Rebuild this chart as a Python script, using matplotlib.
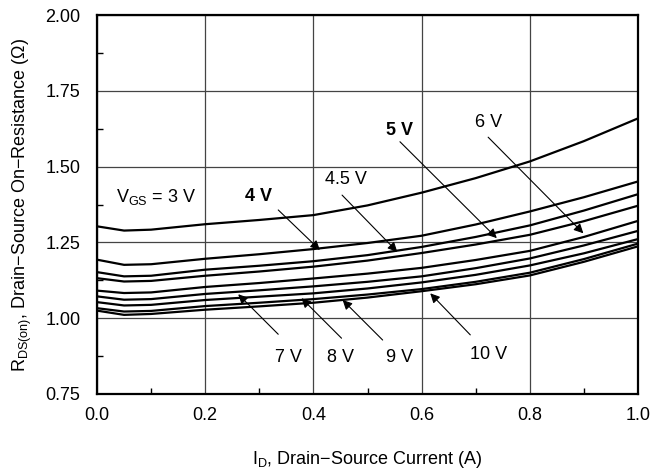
import matplotlib
matplotlib.use("Agg")
import matplotlib.pyplot as plt
from matplotlib.ticker import MultipleLocator

plt.rcParams['font.family'] = ['Liberation Sans', 'DejaVu Sans']
plt.rcParams['mathtext.fontset'] = 'custom'
plt.rcParams['mathtext.rm'] = 'Liberation Sans'
plt.rcParams['mathtext.it'] = 'Liberation Sans'
plt.rcParams['axes.unicode_minus'] = True

# Drain current (A)
current = [0.0, 0.05, 0.1, 0.2, 0.3, 0.4, 0.5, 0.6, 0.7, 0.8, 0.9, 1.0]

# On-resistance (ohm) for each gate voltage
r_3v  = [1.303, 1.289, 1.292, 1.310, 1.324, 1.340, 1.372, 1.414, 1.462, 1.517, 1.584, 1.659]
r_4v  = [1.193, 1.176, 1.178, 1.196, 1.211, 1.228, 1.248, 1.272, 1.309, 1.352, 1.399, 1.451]
r_45v = [1.152, 1.138, 1.140, 1.160, 1.173, 1.188, 1.208, 1.235, 1.268, 1.306, 1.355, 1.409]
r_5v  = [1.132, 1.121, 1.123, 1.140, 1.154, 1.170, 1.190, 1.215, 1.243, 1.275, 1.320, 1.371]
r_6v  = [1.091, 1.083, 1.085, 1.103, 1.116, 1.131, 1.147, 1.166, 1.192, 1.222, 1.268, 1.321]
r_7v  = [1.072, 1.061, 1.063, 1.080, 1.092, 1.105, 1.120, 1.138, 1.165, 1.197, 1.240, 1.288]
r_8v  = [1.053, 1.042, 1.044, 1.060, 1.071, 1.082, 1.098, 1.118, 1.143, 1.174, 1.214, 1.261]
r_9v  = [1.033, 1.022, 1.024, 1.040, 1.051, 1.063, 1.078, 1.096, 1.120, 1.150, 1.195, 1.246]
r_10v = [1.025, 1.011, 1.014, 1.028, 1.039, 1.051, 1.068, 1.089, 1.112, 1.141, 1.186, 1.237]

series = [r_3v, r_4v, r_45v, r_5v, r_6v, r_7v, r_8v, r_9v, r_10v]

x_ticks = [0.0, 0.2, 0.4, 0.6, 0.8, 1.0]
x_ticklabels = ['0.0', '0.2', '0.4', '0.6', '0.8', '1.0']
y_ticks = [0.75, 1.00, 1.25, 1.50, 1.75, 2.00]
y_ticklabels = ['0.75', '1.00', '1.25', '1.50', '1.75', '2.00']

FS = 13

fig = plt.figure(figsize=(6.69, 4.76), dpi=100)
ax = fig.add_axes([97/669, 1 - 394/476, (638 - 97)/669, (394 - 15)/476])

for s in series:
    ax.plot(current, s, color='black', lw=1.6, solid_capstyle='round', solid_joinstyle='round')

ax.set_xlim(0.0, 1.0)
ax.set_ylim(0.75, 2.00)
ax.set_xticks(x_ticks)
ax.set_xticklabels(x_ticklabels)
ax.set_yticks(y_ticks)
ax.set_yticklabels(y_ticklabels)
ax.xaxis.set_minor_locator(MultipleLocator(0.1))
ax.yaxis.set_minor_locator(MultipleLocator(0.125))
ax.tick_params(which='major', length=0, labelsize=FS, colors='black')
ax.tick_params(axis='x', which='major', pad=9)
ax.tick_params(axis='y', which='major', pad=12)
ax.tick_params(which='minor', direction='in', length=4, width=1)
ax.grid(True, which='major', color='#444444', lw=0.9)
for sp in ax.spines.values():
    sp.set_linewidth(1.6)

ax.set_xlabel('I$_{\\mathregular{D}}$, Drain\u2212Source Current (A)', fontsize=FS, labelpad=18)
ax.set_ylabel('R$_{\\mathregular{DS(on)}}$, Drain\u2212Source On\u2212Resistance (\u03a9)', fontsize=FS, labelpad=8)

box = dict(facecolor='white', edgecolor='none', pad=1)
ax.text(0.035, 1.400, 'V$_{\\mathregular{GS}}$ = 3 V', fontsize=FS, ha='left', va='center', bbox=box)

arrow = dict(arrowstyle='-|>', color='black', lw=0.8, mutation_scale=14, shrinkA=0, shrinkB=0)

labels = [
    ('4 V',   (0.298, 1.400), (0.335, 1.357), (0.412, 1.225), 'bold'),
    ('4.5 V', (0.460, 1.456), (0.453, 1.406), (0.555, 1.219), 'normal'),
    ('5 V',   (0.560, 1.620), (0.560, 1.582), (0.739, 1.264), 'bold'),
    ('6 V',   (0.723, 1.647), (0.723, 1.597), (0.899, 1.280), 'normal'),
    ('7 V',   (0.353, 0.869), (0.335, 0.947), (0.261, 1.079), 'normal'),
    ('8 V',   (0.451, 0.869), (0.452, 0.934), (0.378, 1.066), 'normal'),
    ('9 V',   (0.560, 0.869), (0.528, 0.928), (0.454, 1.060), 'normal'),
    ('10 V',  (0.723, 0.879), (0.690, 0.945), (0.616, 1.082), 'normal'),
]
for txt, tpos, start, tip, wt in labels:
    ax.text(tpos[0], tpos[1], txt, fontsize=FS, ha='center', va='center', fontweight=wt, bbox=box)
    ax.annotate('', xy=tip, xytext=start, arrowprops=arrow)

fig.savefig('out.png', dpi=100)
